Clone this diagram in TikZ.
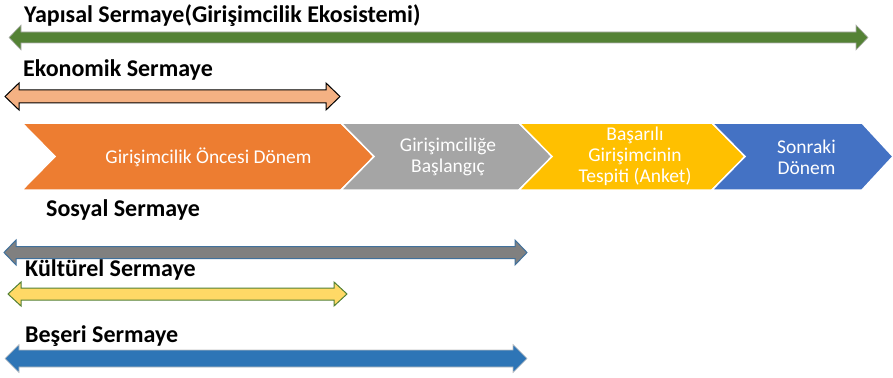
\documentclass[tikz,border=0pt]{standalone}
\usepackage{fontspec}
\setmainfont{Carlito}
\definecolor{cgreen}{HTML}{548235}
\definecolor{corangeL}{HTML}{F4B183}
\definecolor{cgrayA}{HTML}{808080}
\definecolor{cgrayB}{HTML}{41719C}
\definecolor{cyel}{HTML}{FFD966}
\definecolor{cyelB}{HTML}{538135}
\definecolor{cblueA}{HTML}{2E75B6}
\definecolor{chorange}{HTML}{ED7D31}
\definecolor{chgray}{HTML}{A5A5A5}
\definecolor{chgold}{HTML}{FFC000}
\definecolor{chblue}{HTML}{4472C4}
\newcommand\dblarrow[7]{%
  \draw[#7] (#1,#3) -- ({#1+#6},{#3-#5}) -- ({#1+#6},{#3-#4}) -- ({#2-#6},{#3-#4})
    -- ({#2-#6},{#3-#5}) -- (#2,#3) -- ({#2-#6},{#3+#5}) -- ({#2-#6},{#3+#4})
    -- ({#1+#6},{#3+#4}) -- ({#1+#6},{#3+#5}) -- cycle;}
\newcommand\chev[5]{%
  \draw[chevbox,fill=#4] (#1,123) -- (#2,123) -- ({#2+#3},156.5) -- (#2,190) -- (#1,190)
    -- ({#1+#5},156.5) -- cycle;}
\begin{document}
\begin{tikzpicture}[x=1pt,y=-1pt,
  lab/.style={anchor=base west,inner sep=0pt,font=\fontsize{24}{26}\selectfont\bfseries},
  chevtext/.style={align=center,inner sep=0pt,text=white,font=\fontsize{19.5}{21}\selectfont},
  chevbox/.style={draw=white,line width=1.5pt,line join=miter}]
\useasboundingbox (0,0) rectangle (893,377);
% labels
\node[lab] (yap) at (24,22.7) {Yapısal Sermaye(Girişimcilik Ekosistemi)};
\node[lab] (eko) at (23,77) {Ekonomik Sermaye};
\node[lab] (sos) at (46,216) {Sosyal Sermaye};
\node[lab] (kul) at (25,276) {Kültürel Sermaye};
\node[lab] (bes) at (25,342.5) {Beşeri Sermaye};
% arrows
\dblarrow{9}{868}{37.5}{5.5}{12.5}{12}{fill=cgreen,draw=gray!60,line width=0.6pt}
\dblarrow{5}{340}{96.5}{6.5}{13.5}{14}{fill=corangeL,draw=black,line width=1pt}
\dblarrow{4}{527}{252.5}{6}{12.5}{12}{fill=cgrayA,draw=cgrayB,line width=1pt}
\dblarrow{8}{347}{294}{6}{12}{13}{fill=cyel,draw=cyelB,line width=1pt}
\dblarrow{5}{527}{358.5}{8.5}{14}{14}{fill=cblueA,draw=gray!50,line width=0.6pt}
% chevrons
\chev{22}{341}{33}{chorange}{33}
\chev{341}{519}{33}{chgray}{33}
\chev{519}{712}{33}{chgold}{33}
\chev{712}{862}{31}{chblue}{33}
\node[chevtext] (c1) at (208.5,157) {Girişimcilik Öncesi Dönem};
\node[chevtext] (c2) at (448,157) {Girişimciliğe\\Başlangıç};
\node[chevtext] (c3) at (635,156) {Başarılı\\Girişimcinin\\Tespiti (Anket)};
\node[chevtext] (c4) at (806.5,157) {Sonraki\\Dönem};
\end{tikzpicture}
\end{document}
